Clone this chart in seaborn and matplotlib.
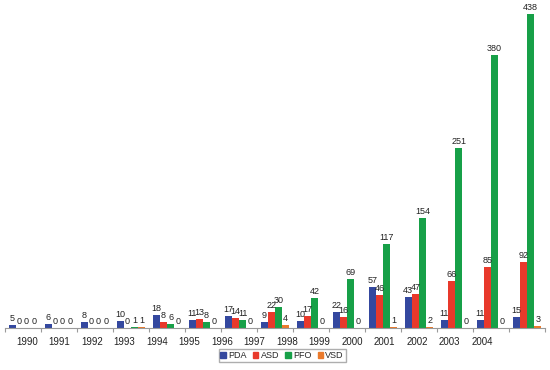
import matplotlib
matplotlib.use("Agg")
import matplotlib.pyplot as plt
import seaborn as sns
import pandas as pd
import numpy as np

years = ["1990", "1991", "1992", "1993", "1994", "1995", "1996", "1997",
         "1998", "1999", "2000", "2001", "2002", "2003", "2004"]
group_ids = list(range(15))
pda = [5, 6, 8, 10, 18, 11, 17, 9, 10, 22, 57, 43, 11, 11, 15]
asd = [0, 0, 0, 0, 8, 13, 14, 22, 17, 16, 46, 47, 66, 85, 92]
pfo = [0, 0, 0, 1, 6, 8, 11, 30, 42, 69, 117, 154, 251, 380, 438]
vsd = [0, 0, 0, 1, 0, 0, 0, 4, 0, 0, 1, 2, 0, 0, 3]
series = ["PDA", "ASD", "PFO", "VSD"]
colors = ["#34489f", "#e8392b", "#17a048", "#ea7a2c"]

rows = []
for name, vals in zip(series, [pda, asd, pfo, vsd]):
    for g, v in zip(group_ids, vals):
        rows.append({"group": g, "series": name, "value": v})
df = pd.DataFrame(rows)

sns.set_theme(style="white")
plt.rcParams["font.family"] = ["Liberation Sans", "DejaVu Sans"]

fig = plt.figure(figsize=(5.5, 3.7), dpi=100)
ax = fig.add_axes([0.009, 0.113, 0.982, 0.873])

sns.barplot(data=df, x="group", y="value", hue="series", hue_order=series,
            palette=colors, width=0.8, ax=ax, legend=True, saturation=1,
            order=group_ids, edgecolor="none")

for cont in ax.containers:
    ax.bar_label(cont, fmt="%d", fontsize=6.5, padding=1.5, color="#222222")

ax.set_xlim(-0.5, 14.5)
ax.set_ylim(0, 450)
ax.set_yticks([])
ax.set_xlabel("")
ax.set_ylabel("")
for s in ["top", "right", "left"]:
    ax.spines[s].set_visible(False)
ax.spines["bottom"].set_color("#9a9a9a")
ax.spines["bottom"].set_linewidth(0.8)

# group boundary ticks
ax.set_xticks(np.arange(-0.5, 15, 1.0), minor=True)
ax.tick_params(axis="x", which="minor", length=3, color="#9a9a9a", width=0.8,
               direction="out", bottom=True)
# year labels (slightly compressed spacing as in reference)
label_pos = [0.11 + 0.903 * i for i in range(len(years))]
ax.set_xticks(label_pos)
ax.set_xticklabels(years, fontsize=7, color="#222222")
ax.tick_params(axis="x", which="major", length=0, pad=6)

leg = ax.get_legend()
leg.remove()
handles = [plt.Rectangle((0, 0), 1, 1, color=c) for c in colors]
fig.legend(handles, series, loc="lower center", bbox_to_anchor=(0.513, 0.022),
           ncol=4, fontsize=6.5, handlelength=0.6, handleheight=0.6,
           handletextpad=0.25, columnspacing=0.7, frameon=True, fancybox=False,
           edgecolor="#9a9a9a", borderpad=0.2, borderaxespad=0)

fig.savefig("out.png", dpi=100)
